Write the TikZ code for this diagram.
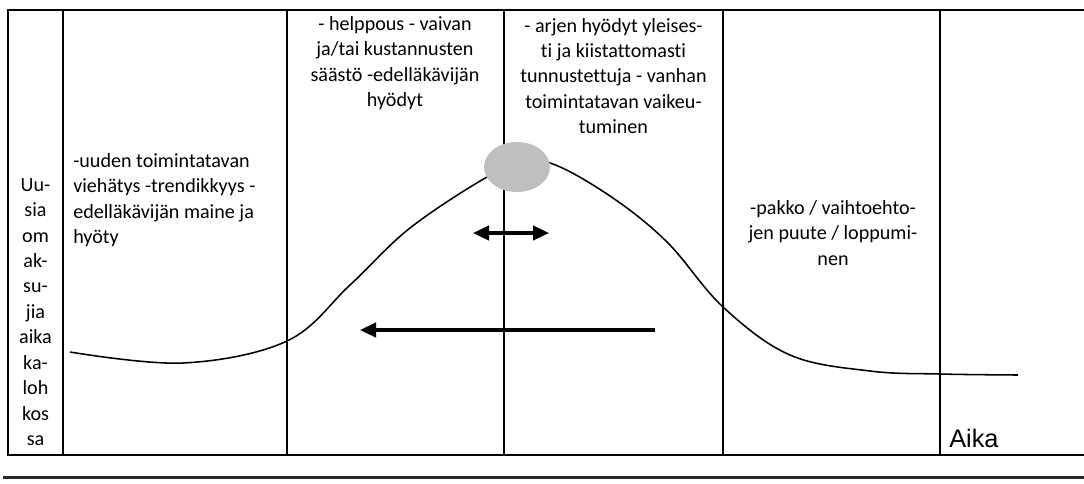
\documentclass[tikz,border=0pt]{standalone}
\usepackage{fontspec}
\setmainfont[Ligatures=NoCommon]{Carlito}
\newfontfamily\axisfont{Liberation Sans}
\usepackage{tikz}
\usetikzlibrary{arrows.meta, positioning, shapes.geometric}
\definecolor{peakgray}{RGB}{191,191,191}

\begin{document}
\begin{tikzpicture}[x=0.025cm, y=-0.025cm, every node/.style={inner sep=0pt},
  >={Triangle[length=4mm, width=3.6mm]},
  cell/.style={font=\fontsize{14.3}{18.1}\selectfont, align=center},
  grid/.style={line width=1.6pt},
  curve/.style={line width=1.1pt},
  arrow/.style={->, line width=2.2pt}]
\useasboundingbox (0,0) rectangle (1084,483);
\draw[grid] (1084,10) -- (8,10) -- (8,455) -- (1084,455);
\foreach \x in {63,287,504,723,940}
  \draw[grid] (\x,10) -- (\x,455);
\draw[line width=2.2pt, black!85] (3,477.5) -- (1084,477.5);
\draw[curve] plot[smooth, tension=0.6] coordinates {(70,352) (183,363) (287,341)
  (350,285) (410,228) (487,177) (517,167) (550,163) (610,196) (667,242)
  (723,307) (790,355) (870,371) (940,374) (1018,375)};
\node[ellipse, fill=peakgray, minimum width=1.65cm, minimum height=1.25cm] (peak) at (517,167) {};
\node[cell] (adopters) at (35.5,312) {Uu-\\sia\\om\\ak-\\su-\\jia\\aika\\ka-\\loh\\kos\\sa};
\node[cell, align=left, anchor=west] (early) at (73,200)
  {-uuden toimintatavan\\viehätys -trendikkyys -\\edelläkävijän maine ja\\hyöty};
\node[cell] (rise) at (395,63)
  {- helppous - vaivan\\ja/tai kustannusten\\säästö -edelläkävijän\\hyödyt};
\node[cell] (summit) at (613.5,76)
  {- arjen hyödyt yleises-\\ti ja kiistattomasti\\tunnustettuja - vanhan\\toimintatavan vaikeu-\\tuminen};
\node[cell] (late) at (833,233) {-pakko / vaihtoehto-\\jen puute / loppumi-\\nen};
\node[font=\axisfont\fontsize{18}{20}\selectfont, anchor=base west] (time) at (949,447) {Aika};
\coordinate (backR) at (655,330);
\coordinate (backL) at (360,330);
\draw[arrow] (backR) -- (backL);
\coordinate (swayL) at (473,233);
\coordinate (swayR) at (549,233);
\draw[arrow, <->] (swayL) -- (swayR);
\end{tikzpicture}
\end{document}
